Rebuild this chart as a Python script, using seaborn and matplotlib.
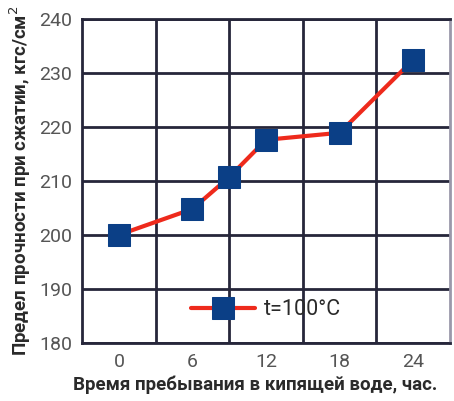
import numpy as np
import pandas as pd
import matplotlib
matplotlib.use('Agg')
import matplotlib.pyplot as plt
import seaborn as sns

# Data
hours = [0, 6, 9, 12, 18, 24]
strength = [200, 204.8, 210.7, 217.6, 218.9, 232.4]
series_label = 't=100°C'
x_ticks = [0, 6, 12, 18, 24]
y_ticks = [180, 190, 200, 210, 220, 230, 240]

df = pd.DataFrame({'hours': hours, 'strength': strength, 'series': series_label})

sns.set_style('white')
plt.rcParams['font.family'] = ['Roboto', 'DejaVu Sans']

fig = plt.figure(figsize=(4.54, 4.01), dpi=100)
ax = fig.add_axes([0.181, 0.145, 0.81, 0.808])

sns.lineplot(data=df, x='hours', y='strength', hue='series', palette=['#ee2a1c'],
             linewidth=3, marker='s', markersize=16, markerfacecolor='#0b3f86',
             markeredgecolor='#0b3f86', ax=ax, zorder=3)

grid_col = '#26263a'
ax.set_xlim(-3, 27)
ax.set_ylim(180, 240)
ax.set_xticks(x_ticks)
ax.set_xticks([3, 9, 15, 21], minor=True)
ax.set_yticks(y_ticks)
ax.grid(False)
ax.grid(which='minor', axis='x', color=grid_col, linewidth=2)
ax.grid(which='major', axis='y', color=grid_col, linewidth=2)
for s in ax.spines.values():
    s.set_color(grid_col)
    s.set_linewidth(2)
ax.spines['right'].set_color('#9a98aa')

ax.tick_params(axis='both', which='both', labelsize=14, colors='#555555', length=0, pad=7)

ax.set_xlabel('Время пребывания в кипящей воде, час.', fontsize=13.5, fontweight='bold', color='#2a2a2a', labelpad=5)
ax.xaxis.set_label_coords(0.47, -0.1)
ax.set_ylabel('Предел прочности при сжатии, кгс/см$^2$', fontsize=13.5, fontweight='bold', color='#2a2a2a', labelpad=5)

leg = ax.legend(loc='lower center', bbox_to_anchor=(0.5, 0.01), frameon=False, fontsize=15.5,
                handlelength=3.0, handletextpad=0.4)
for t in leg.get_texts():
    t.set_color('#2a2a2a')

fig.savefig('out.png', dpi=100)
